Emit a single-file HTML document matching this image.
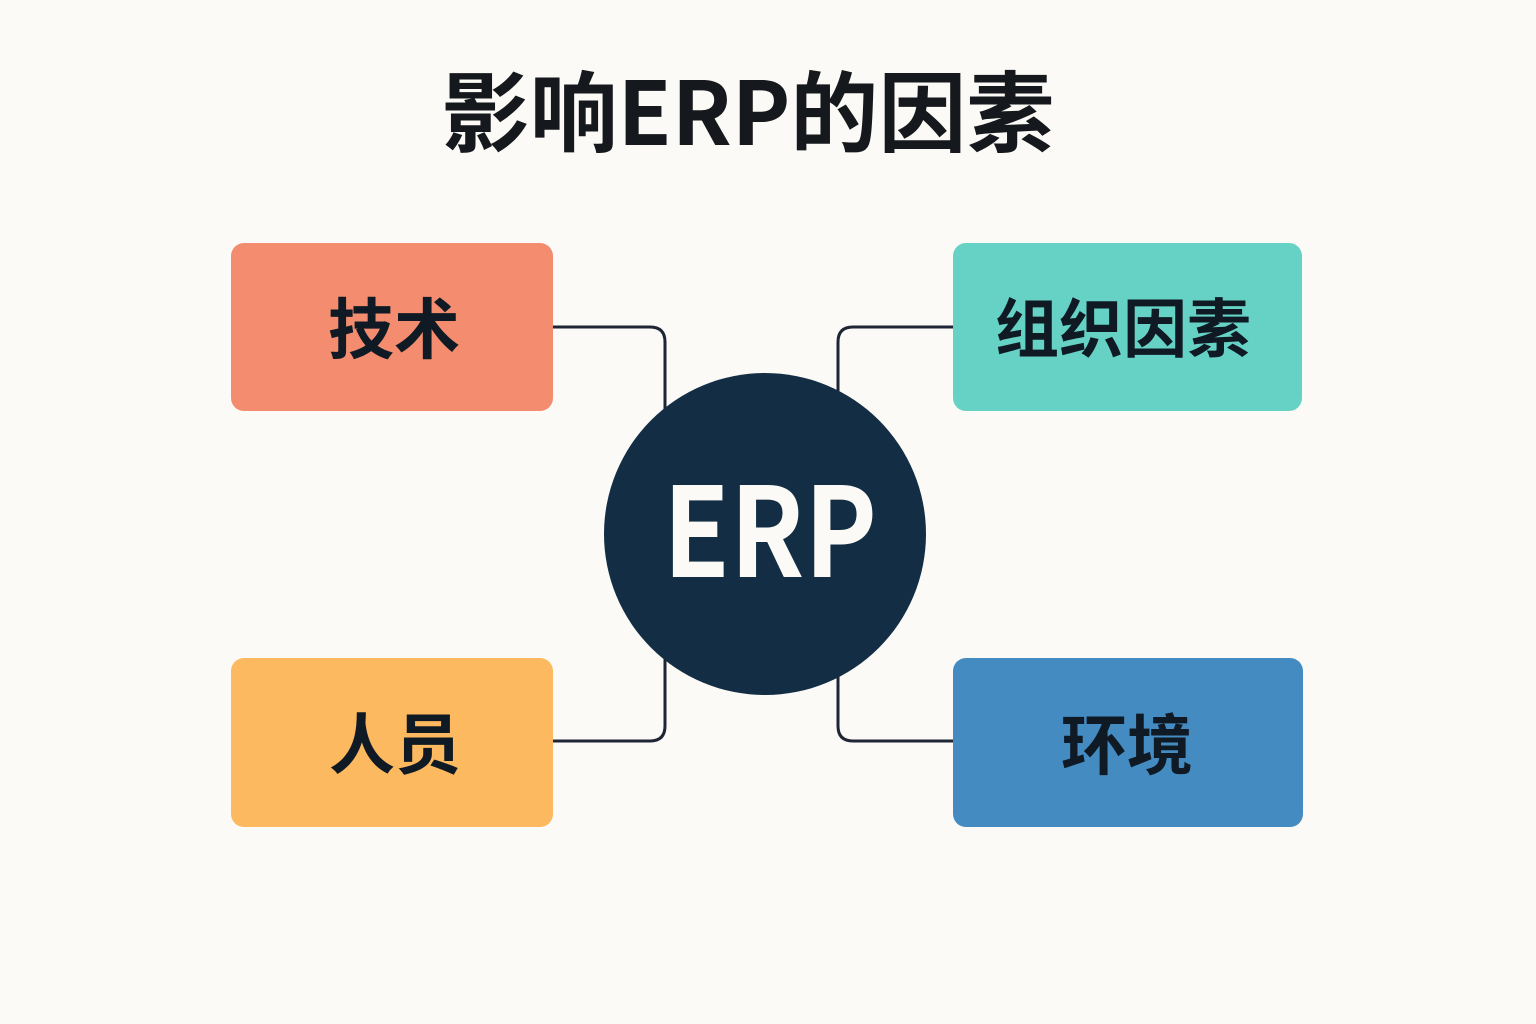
<!DOCTYPE html>
<html>
<head>
<meta charset="utf-8">
<style>
  html, body { margin:0; padding:0; background:#FBFAF6; }
  body { width:1536px; height:1024px; overflow:hidden; }
  svg { display:block; }
  text { font-family: "Liberation Sans", "Noto Sans CJK SC", sans-serif; }
  .cjk { font-family: "Noto Sans CJK SC", "Liberation Sans", sans-serif; font-weight:700; }
</style>
</head>
<body>
<svg width="1536" height="1024" viewBox="0 0 1536 1024" xmlns="http://www.w3.org/2000/svg">
  <rect x="0" y="0" width="1536" height="1024" fill="#FBFAF6"/>

  <!-- Title -->
  <text class="cjk" x="748" y="145" font-size="88" fill="#15181C" text-anchor="middle">影响ERP的因素</text>

  <!-- Connectors -->
  <g fill="none" stroke="#1E2535" stroke-width="3">
    <path d="M553 327 H650 Q665 327 665 342 V420"/>
    <path d="M553 741 H650 Q665 741 665 726 V650"/>
    <path d="M953 327 H853 Q838 327 838 342 V410"/>
    <path d="M953 741 H853 Q838 741 838 726 V660"/>
  </g>

  <!-- Boxes -->
  <rect x="231" y="243" width="322" height="168" rx="13" fill="#F48D6F"/>
  <rect x="953" y="243" width="349" height="168" rx="13" fill="#66D2C5"/>
  <rect x="231" y="658" width="322" height="169" rx="13" fill="#FDB95F"/>
  <rect x="953" y="658" width="350" height="169" rx="13" fill="#448BC2"/>

  <!-- Center circle -->
  <circle cx="765" cy="534" r="161" fill="#132E44"/>
  <text class="cjk" x="663" y="577" font-size="124" fill="#FBFAF6" textLength="214" lengthAdjust="spacingAndGlyphs">ERP</text>

  <!-- Box labels -->
  <text class="cjk" x="394" y="353" font-size="66" fill="#0F1A24" text-anchor="middle">技术</text>
  <text class="cjk" x="1123" y="352" font-size="64" fill="#0F1A24" text-anchor="middle">组织因素</text>
  <text class="cjk" x="395" y="768" font-size="66" fill="#0F1A24" text-anchor="middle">人员</text>
  <text class="cjk" x="1127" y="769" font-size="66" fill="#0F1A24" text-anchor="middle">环境</text>
</svg>
</body>
</html>
